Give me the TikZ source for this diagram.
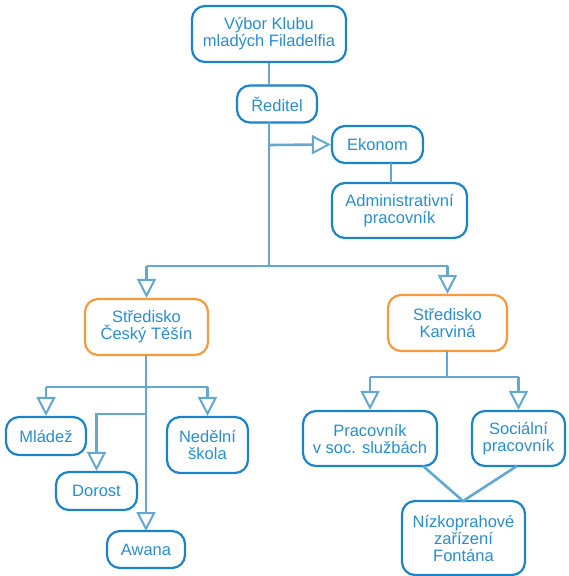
\documentclass[tikz,border=0pt]{standalone}
\usepackage{fontspec}
\setmainfont{Liberation Sans}
\usetikzlibrary{arrows.meta}
\definecolor{nodeblue}{HTML}{1B84C8}
\definecolor{txtblue}{HTML}{2A8DD0}
\definecolor{linkblue}{HTML}{62A8D2}
\definecolor{orng}{HTML}{F79A3C}
\tikzset{
  box/.style={draw=nodeblue, line width=2.2pt, fill=white, rounded corners=13pt,
    align=center, text=txtblue, inner sep=0pt,
    font=\fontsize{16.5pt}{17pt}\selectfont},
  obox/.style={box, draw=orng},
  link/.style={draw=linkblue, line width=2.6pt},
  arr/.style={link, -{Triangle[open, length=19pt, width=19pt, line width=2pt]}},
}
\begin{document}
\begin{tikzpicture}[x=1pt, y=-1pt]
\useasboundingbox (0,0) rectangle (569,576);
% nodes
\node[box, minimum width=154pt, minimum height=56pt] (vybor) at (269,34) {Výbor Klubu\\mladých Filadelfia};
\node[box, minimum width=80pt, minimum height=37pt] (reditel) at (277,104) {Ředitel};
\node[box, minimum width=91pt, minimum height=37pt] (ekonom) at (377.5,144.5) {Ekonom};
\node[box, minimum width=135pt, minimum height=55pt] (admin) at (399.5,210.5) {Administrativní\\pracovník};
\node[obox, minimum width=123pt, minimum height=56pt] (ct) at (146.5,327) {Středisko\\Český Těšín};
\node[obox, minimum width=119pt, minimum height=56pt] (karv) at (447.5,323) {Středisko\\Karviná};
\node[box, minimum width=80pt, minimum height=38pt] (mladez) at (46,436) {Mládež};
\node[box, minimum width=81pt, minimum height=56pt] (nedelni) at (207.5,445) {Nedělní\\škola};
\node[box, minimum width=81pt, minimum height=38pt] (dorost) at (96.5,491) {Dorost};
\node[box, minimum width=78pt, minimum height=37pt] (awana) at (146,549.5) {Awana};
\node[box, minimum width=134pt, minimum height=55pt] (prac) at (370,438.5) {Pracovník\\v soc. službách};
\node[box, minimum width=93pt, minimum height=55pt] (soc) at (518.5,438.5) {Sociální\\pracovník};
\node[box, minimum width=123pt, minimum height=74pt] (nizko) at (463.5,538) {Nízkoprahové\\zařízení\\Fontána};
% helper coordinates
\coordinate (rb) at (269,266);
\coordinate (ekb) at (269,145);
\coordinate (ctbar) at (146,387);
\coordinate (dorbar) at (146,414);
\coordinate (kbar) at (447,377);
\coordinate (pb) at (423,466);
\coordinate (sb) at (517,466);
\coordinate (nt) at (463,501);
% connectors
\draw[link] (vybor.south) -- (vybor.south |- reditel.north);
\draw[link] (269,121) -- (rb);
\draw[arr] (ekb) -- (ekonom.west);
\draw[link] (391,163) -- (391,183);
\draw[link] (ct.north |- rb) -- (karv.north |- rb);
\draw[arr] (ct.north |- rb) -- (ct.north);
\draw[arr] (karv.north |- rb) -- (karv.north);
\draw[arr] (146,355) -- (146,531);
\draw[link] (mladez.north |- ctbar) -- (nedelni.north |- ctbar);
\draw[arr] (mladez.north |- ctbar) -- (mladez.north);
\draw[arr] (nedelni.north |- ctbar) -- (nedelni.north);
\draw[arr] (dorbar) -| (dorost.north);
\draw[link] (447,351) -- (kbar);
\draw[link] (prac.north |- kbar) -- (soc.north |- kbar);
\draw[arr] (prac.north |- kbar) -- (prac.north);
\draw[arr] (soc.north |- kbar) -- (soc.north);
\draw[link] (pb) -- (nt) -- (sb);
\end{tikzpicture}
\end{document}
